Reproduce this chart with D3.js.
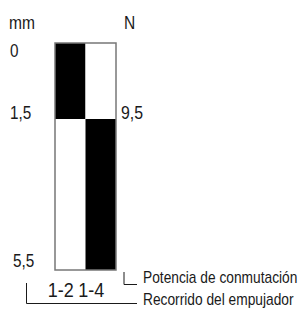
<!DOCTYPE html>
<html>
<head>
<meta charset="utf-8">
<script src="https://cdn.jsdelivr.net/npm/d3@7"></script>
<style>
  html, body { margin: 0; padding: 0; background: #fff; }
  svg { display: block; }
  text { font-family: "Liberation Sans", Arial, sans-serif; fill: #1a1a1a; }
</style>
</head>
<body>
<div id="chart"></div>
<script>
// contacts and stroke positions (mm)
var contacts = ["1-2", "1-4"];
var strokeTicks = [0, 1.5, 5.5];
var strokeLabels = ["0", "1,5", "5,5"];
var forceAt = 1.5;
var forceLabel = "9,5";

// closed (1) / open (0) along the stroke
var segStart = [0, 1.5, 0, 1.5];
var segEnd = [1.5, 5.5, 1.5, 5.5];
var segContact = ["1-2", "1-2", "1-4", "1-4"];
var segClosed = [1, 0, 0, 1];

var W = 304, H = 314;

var svg = d3.select('#chart').append('svg')
  .attr('width', W)
  .attr('height', H);

var y = d3.scaleLinear()
  .domain(strokeTicks)
  .range([43, 119, 270]);

var x = d3.scaleBand()
  .domain(contacts)
  .range([55, 116])
  .padding(0);

// the original font is a condensed one, so squeeze the glyphs
function narrowText(g, px, py, size, str, sx, anchor) {
  return g.append('text')
    .attr('transform', 'translate(' + px + ',' + py + ') scale(' + sx + ',1)')
    .attr('font-size', size)
    .attr('text-anchor', anchor || 'start')
    .text(str);
}

// segments
var segs = segStart.map(function(s, i) {
  return {start: s, end: segEnd[i], contact: segContact[i], closed: segClosed[i]};
});

svg.append('g').selectAll('rect')
  .data(segs)
  .enter().append('rect')
  .attr('x', function(d) { return x(d.contact); })
  .attr('y', function(d) { return y(d.start); })
  .attr('width', x.bandwidth())
  .attr('height', function(d) { return y(d.end) - y(d.start); })
  .attr('fill', function(d) { return d.closed ? '#000' : '#fff'; });

// outline
svg.append('rect')
  .attr('x', x.range()[0])
  .attr('y', y(0))
  .attr('width', x.range()[1] - x.range()[0])
  .attr('height', y(5.5) - y(0))
  .attr('fill', 'none')
  .attr('stroke', '#777')
  .attr('stroke-width', 1.5);

// unit labels
narrowText(svg, 9, 29, 19, 'mm', 0.82);
narrowText(svg, 124, 29, 19, 'N', 0.82);

// stroke labels
strokeTicks.forEach(function(d, i) {
  var py = i === 0 ? y(d) + 14 : y(d) - (i === 2 ? 3 : 0);
  narrowText(svg, i === 2 ? 13 : 10, py, 18, strokeLabels[i], 0.85);
});

narrowText(svg, 121, y(forceAt), 18, forceLabel, 0.88);

// contact labels
contacts.forEach(function(d) {
  narrowText(svg, x(d) + x.bandwidth() / 2 - 9.5, 297, 20, d, 0.9, 'middle');
});

// legend brackets
var line = d3.line();
svg.append('path')
  .attr('d', line([[124, 272], [124, 284.5], [137, 284.5]]))
  .attr('fill', 'none')
  .attr('stroke', '#1a1a1a')
  .attr('stroke-width', 1);
svg.append('path')
  .attr('d', line([[26.5, 283], [26.5, 303.5], [137, 303.5]]))
  .attr('fill', 'none')
  .attr('stroke', '#1a1a1a')
  .attr('stroke-width', 1);

narrowText(svg, 143, 283, 16, 'Potencia de conmutación', 0.86);
narrowText(svg, 143, 305, 16, 'Recorrido del empujador', 0.86);
</script>
</body>
</html>
